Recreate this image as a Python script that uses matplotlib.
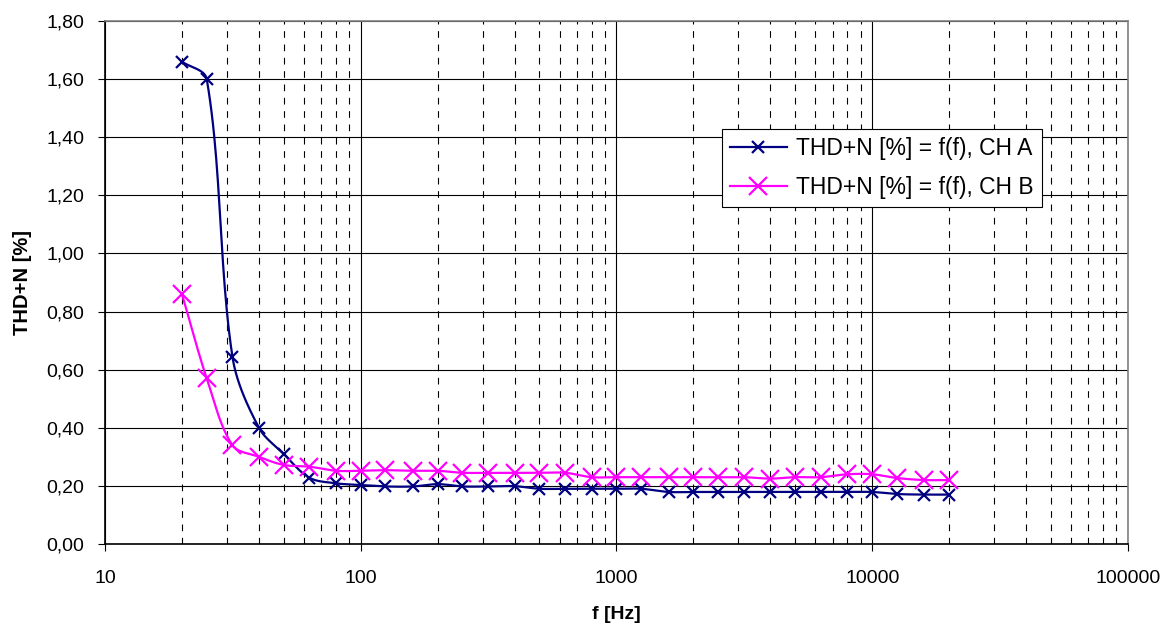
import numpy as np
import matplotlib
matplotlib.use('Agg')
import matplotlib.pyplot as plt
from matplotlib.ticker import FixedLocator, FuncFormatter, LogLocator, NullFormatter

plt.rcParams['font.family'] = ['Liberation Sans', 'DejaVu Sans']

# terzove frekvence a namerene THD+N
freq = [20, 25, 31.5, 40, 50, 63, 80, 100, 125, 160, 200, 250, 315, 400, 500, 630,
        800, 1000, 1250, 1600, 2000, 2500, 3150, 4000, 5000, 6300, 8000, 10000,
        12500, 16000, 20000]
thd_a = [1.66, 1.60, 0.645, 0.40, 0.31, 0.228, 0.209, 0.203, 0.198, 0.198, 0.206,
         0.198, 0.198, 0.199, 0.19, 0.19, 0.19, 0.19, 0.19, 0.179, 0.179, 0.179,
         0.179, 0.179, 0.179, 0.179, 0.179, 0.179, 0.172, 0.17, 0.17]
thd_b = [0.86, 0.57, 0.34, 0.30, 0.272, 0.266, 0.252, 0.252, 0.254, 0.252, 0.252,
         0.245, 0.245, 0.245, 0.245, 0.245, 0.23, 0.23, 0.23, 0.23, 0.23, 0.23,
         0.23, 0.225, 0.23, 0.23, 0.24, 0.24, 0.227, 0.22, 0.22]

SX, SY = 255.8, 290.6   # px na dekadu a px na jednotku y


def smooth(x, y, n=24, k=1.0 / 3):
    # vyhlazena cara (Bezier pres body), pocitano v pixelovych souradnicich
    p = np.column_stack((np.log10(x) * SX, np.asarray(y, dtype=float) * SY))
    m = len(p)
    cout = np.zeros_like(p)
    cin = np.zeros_like(p)
    for i in range(m):
        if i == 0:
            cout[i] = p[0] + (p[1] - p[0]) * k
            continue
        if i == m - 1:
            cin[i] = p[i] - (p[i] - p[i - 1]) * k
            continue
        d = p[i + 1] - p[i - 1]
        lp = np.hypot(*(p[i] - p[i - 1]))
        ln = np.hypot(*(p[i + 1] - p[i]))
        cin[i] = p[i] - d * lp / (lp + ln) * k
        cout[i] = p[i] + d * ln / (lp + ln) * k
    t = np.linspace(0, 1, n, endpoint=False)[:, None]
    pts = []
    for i in range(m - 1):
        b = (1 - t) ** 3 * p[i] + 3 * (1 - t) ** 2 * t * cout[i] \
            + 3 * (1 - t) * t ** 2 * cin[i + 1] + t ** 3 * p[i + 1]
        pts.append(b)
    pts.append(p[-1:])
    pts = np.vstack(pts)
    return 10 ** (pts[:, 0] / SX), pts[:, 1] / SY


fig = plt.figure(figsize=(11.65, 6.27), dpi=100)
ax = fig.add_axes([0.0901, 0.1324, 0.8781, 0.8341])

ax.set_xscale('log')
ax.set_xlim(10, 100000)
ax.set_ylim(0, 1.8)

ax.xaxis.set_major_locator(LogLocator(base=10))
ax.xaxis.set_minor_locator(LogLocator(base=10, subs=np.arange(2, 10)))
ax.xaxis.set_major_formatter(FuncFormatter(lambda v, p: '%d' % v))
ax.xaxis.set_minor_formatter(NullFormatter())
ax.yaxis.set_major_locator(FixedLocator(np.arange(0, 1.81, 0.2)))
ax.yaxis.set_major_formatter(FuncFormatter(lambda v, p: ('%.2f' % v).replace('.', ',')))

ax.grid(True, which='major', axis='both', color='black', linewidth=0.8)
ax.grid(True, which='minor', axis='x', color='black', linewidth=0.8, linestyle=(0, (6, 6)))
ax.set_axisbelow(True)

for s in ax.spines.values():
    s.set_color('#808080')
    s.set_linewidth(1.2)
ax.spines['bottom'].set_color('black')
ax.spines['left'].set_color('black')

ax.tick_params(axis='both', which='major', labelsize=14, length=5, direction='out')
ax.tick_params(axis='y', which='major', pad=10)
ax.tick_params(axis='x', which='minor', length=0)
ax.tick_params(axis='x', which='major', pad=14)

sx, sy = smooth(freq, thd_a)
ax.plot(sx, sy, color='#000080', linewidth=1.6)
sx, sy = smooth(freq, thd_b)
ax.plot(sx, sy, color='#FF00FF', linewidth=1.6)
ax.plot(freq, thd_a, linestyle='none', marker='x', color='#000080', markersize=8.5, markeredgewidth=1.6)
ax.plot(freq, thd_b, linestyle='none', marker='x', color='#FF00FF', markersize=12.5, markeredgewidth=1.6)

# polozky legendy
la, = ax.plot([], [], color='#000080', linewidth=1.6, marker='x', markersize=8.5, markeredgewidth=1.6,
              label='THD+N [%] = f(f), CH A')
lb, = ax.plot([], [], color='#FF00FF', linewidth=1.6, marker='x', markersize=12.5, markeredgewidth=1.6,
              label='THD+N [%] = f(f), CH B')
leg = ax.legend(handles=[la, lb], loc='upper left', bbox_to_anchor=(0.603, 0.7935), borderaxespad=0,
                fontsize=16.5, frameon=True, fancybox=False, edgecolor='black', framealpha=1,
                handlelength=2.5, borderpad=0.35, labelspacing=0.7, handletextpad=0.4)
leg.get_frame().set_linewidth(0.8)

ax.set_xlabel('f [Hz]', fontsize=14, fontweight='bold')
ax.xaxis.set_label_coords(0.5, -0.118)
ax.set_ylabel('THD+N [%]', fontsize=14.5, fontweight='bold', labelpad=10)

fig.savefig('out.png', dpi=100)
